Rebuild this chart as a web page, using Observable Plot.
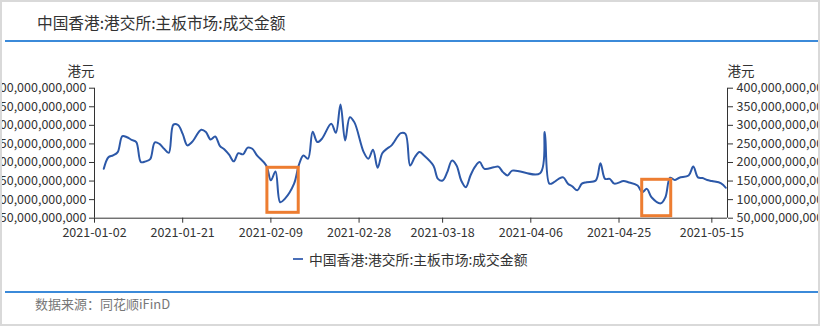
<!DOCTYPE html>
<html>
<head>
<meta charset="utf-8">
<script src="https://cdn.jsdelivr.net/npm/d3@7"></script>
<script src="https://cdn.jsdelivr.net/npm/@observablehq/plot@0.6"></script>
<style>
  html, body { margin: 0; padding: 0; background: #fff; }
  #page { position: relative; width: 820px; height: 326px; overflow: hidden; background: #fff;
          font-family: "Noto Sans CJK SC", "Noto Sans", sans-serif; }
  #title { position: absolute; left: 37px; top: 11px; font-size: 15.7px; line-height: 24px; color: #333; white-space: nowrap; }
  .bar { position: absolute; left: 5px; right: 0; height: 2px; background: #3b8ad9; }
  #chart { position: absolute; left: 0; top: 60px; }
  #legend { position: absolute; left: 293px; top: 250px; height: 18px; display: flex; align-items: center; color: #333; font-size: 13.8px; white-space: nowrap; }
  #legend .sw { width: 10px; height: 2px; background: #4a6fb8; margin-right: 6px; }
  #source { position: absolute; left: 35px; top: 295px; font-size: 13px; line-height: 18px; color: #777; white-space: nowrap; }
  #frame { position: absolute; left: 0; top: 0; width: 820px; height: 326px; box-sizing: border-box; border: 2px solid #d9d9d9; pointer-events: none; }
</style>
</head>
<body>
<div id="page">
  <div id="title">中国香港:港交所:主板市场:成交金额</div>
  <div class="bar" style="top:40px"></div>
  <div id="chart"></div>
  <div id="legend"><span class="sw"></span><span>中国香港:港交所:主板市场:成交金额</span></div>
  <div class="bar" style="top:291px"></div>
  <div id="source">数据来源：同花顺iFinD</div>
  <div id="frame"></div>
</div>
<script>
// Dates and turnover (billions of HKD)
const dates = ["2021-01-04","2021-01-05","2021-01-06","2021-01-07","2021-01-08","2021-01-09","2021-01-10","2021-01-11","2021-01-12","2021-01-13","2021-01-14","2021-01-15","2021-01-16","2021-01-17","2021-01-18","2021-01-19","2021-01-20","2021-01-21","2021-01-22","2021-01-23","2021-01-25","2021-01-26","2021-01-27","2021-01-28","2021-01-29","2021-01-30","2021-01-31",
"2021-02-01","2021-02-02","2021-02-03","2021-02-04","2021-02-05","2021-02-06","2021-02-08","2021-02-09","2021-02-10","2021-02-11","2021-02-12","2021-02-14","2021-02-15","2021-02-16","2021-02-17","2021-02-18","2021-02-19","2021-02-20","2021-02-22","2021-02-23","2021-02-24","2021-02-25","2021-02-26","2021-02-27",
"2021-03-01","2021-03-02","2021-03-03","2021-03-04","2021-03-05","2021-03-06","2021-03-07","2021-03-09","2021-03-10","2021-03-11","2021-03-12","2021-03-13","2021-03-14","2021-03-16","2021-03-17","2021-03-18","2021-03-19","2021-03-20","2021-03-21","2021-03-22","2021-03-23","2021-03-24","2021-03-25","2021-03-26","2021-03-27","2021-03-29","2021-03-30","2021-03-31",
"2021-04-01","2021-04-02","2021-04-08","2021-04-09","2021-04-10","2021-04-11","2021-04-12","2021-04-13","2021-04-14","2021-04-15","2021-04-16","2021-04-17","2021-04-18","2021-04-20","2021-04-21","2021-04-22","2021-04-23","2021-04-24","2021-04-26","2021-04-27","2021-04-29","2021-04-30",
"2021-05-01","2021-05-02","2021-05-04","2021-05-05","2021-05-06","2021-05-07","2021-05-08","2021-05-10","2021-05-11","2021-05-12","2021-05-13","2021-05-14","2021-05-15","2021-05-17","2021-05-18"];
const turnoverBillion = [183,214,219,228,271,268,261,255,201,203,209,254,250,237,226,302,301,277,246,255,288,282,262,270,245,235,221,
203,225,222,240,237,219,192,152,176,93,102,143,192,219,210,283,255,264,304,280,356,259,322,308,
228,210,234,186,225,237,246,279,277,192,214,228,219,192,156,151.5,174,205,192,151.5,133.5,165,189,201,183,187,189,174,
165,178,171,282,143,147,156,160,143,135,125,143,147,151.5,198,156,156,143,150,147,138,120,
129,106.5,90,106.5,159,153,159,165,189,160,158,153,150,144,132];

// Axis ticks
const yTicksBillion = [50,100,150,200,250,300,350,400];
const xTickLabels = ["2021-01-02","2021-01-21","2021-02-09","2021-02-28","2021-03-18","2021-04-06","2021-04-25","2021-05-15"];
const xDomain = ["2021-01-02T00:00Z","2021-05-18T09:00Z"];
const yDomainBillion = [50, 400];

// Highlight boxes (orange annotations)
const boxStart = ["2021-02-08T06:00Z","2021-04-30T00:00Z"];
const boxEnd   = ["2021-02-15T00:00Z","2021-05-06T06:00Z"];
const boxLowBillion  = [64.5, 55.4];
const boxHighBillion = [185.7, 153.4];

const data = dates.map((d, i) => ({date: new Date(d + "T00:00Z"), value: turnoverBillion[i] * 1e9}));
const boxes = boxStart.map((s, i) => ({x1: new Date(s), x2: new Date(boxEnd[i]), y1: boxLowBillion[i] * 1e9, y2: boxHighBillion[i] * 1e9}));
const xStart = new Date(xDomain[0]), xEnd = new Date(xDomain[1]);
const fmt = d3.format(",");
const dfmt = d3.utcFormat("%Y-%m-%d");

const chart = Plot.plot({
  width: 820,
  height: 190,
  marginLeft: 94,
  marginRight: 93,
  marginTop: 27.7,
  marginBottom: 32.3,
  style: {fontFamily: "'Noto Sans CJK SC', sans-serif", fontSize: "12.5px", color: "#333", background: "transparent"},
  x: {type: "utc", domain: [xStart, xEnd]},
  y: {domain: yDomainBillion.map(v => v * 1e9)},
  marks: [
    Plot.ruleY([yDomainBillion[0] * 1e9], {stroke: "#333", strokeWidth: 1}),
    Plot.ruleX([xStart, xEnd], {stroke: "#333", strokeWidth: 1}),
    Plot.axisY({anchor: "left", ticks: yTicksBillion.map(v => v * 1e9), tickFormat: fmt, tickSize: 5, tickPadding: 3, label: null, stroke: "#333"}),
    Plot.axisY({anchor: "right", ticks: yTicksBillion.map(v => v * 1e9), tickFormat: fmt, tickSize: 5, tickPadding: 4, label: null, stroke: "#333"}),
    Plot.axisX({ticks: xTickLabels.map(s => new Date(s + "T00:00Z")), tickFormat: dfmt, tickSize: 5, tickPadding: 5, label: null, stroke: "#333"}),
    Plot.lineY(data, {x: "date", y: "value", curve: "catmull-rom", stroke: "#2c58a8", strokeWidth: 2}),
    Plot.rect(boxes, {x1: "x1", x2: "x2", y1: "y1", y2: "y2", fill: "none", stroke: "#ED7D31", strokeWidth: 3}),
    Plot.text(["港元"], {frameAnchor: "top-left", dy: -17, lineAnchor: "middle", textAnchor: "end", fontSize: 13.5, fill: "#333"}),
    Plot.text(["港元"], {frameAnchor: "top-right", dy: -17, lineAnchor: "middle", textAnchor: "start", fontSize: 13.5, fill: "#333"})
  ]
});
document.getElementById("chart").appendChild(chart);
</script>
</body>
</html>
